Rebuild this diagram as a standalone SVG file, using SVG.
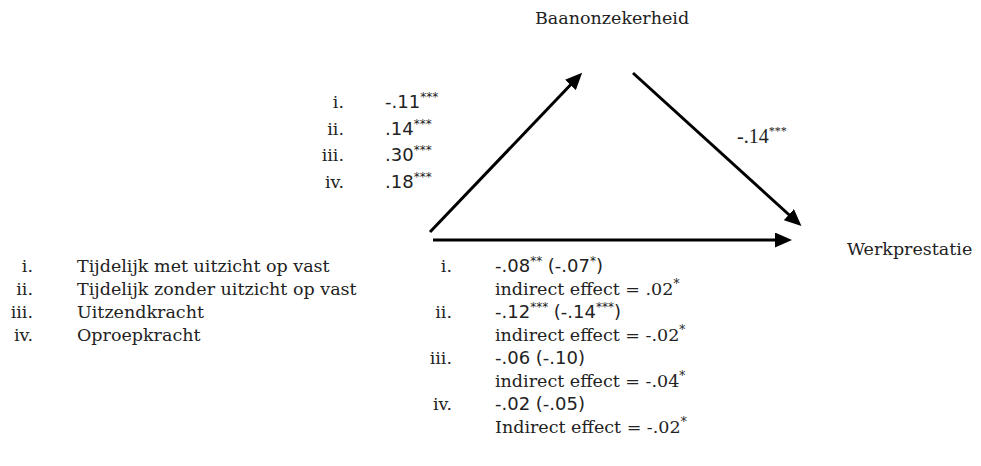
<svg xmlns="http://www.w3.org/2000/svg" width="981" height="466" viewBox="0 0 981 466">
<style>
.serif{font-family:"DejaVu Serif","Liberation Serif",serif;font-size:17.5px;fill:#222;}
.num{font-family:"DejaVu Sans","Liberation Sans",sans-serif;font-size:18px;fill:#222;}
.times{font-family:"Liberation Serif","Times New Roman",serif;font-size:20px;fill:#222;}
.sup{font-size:12px;}
.conn{stroke:#000;stroke-width:3;fill:none;marker-end:url(#ah);}
</style>
<defs>
<marker id="ah" markerUnits="userSpaceOnUse" markerWidth="17" markerHeight="15" refX="11" refY="7.5" orient="auto">
<path d="M0,0 L17,7.5 L0,15 z" fill="#000"/>
</marker>
</defs>
<rect width="981" height="466" fill="#fff"/>
<g id="connectors">
<line class="conn" x1="430" y1="232" x2="578" y2="77"/>
<line class="conn" x1="633" y1="73" x2="797" y2="222"/>
<line class="conn" x1="433" y1="240" x2="786" y2="240"/>
</g>
<g id="node-baanonzekerheid"><text class="serif" x="535" y="24">Baanonzekerheid</text></g>
<g id="node-werkprestatie"><text class="serif" x="847" y="255">Werkprestatie</text></g>
<g id="label-a">
<text class="serif" x="344" y="108" text-anchor="end">i.</text>
<text class="serif" x="344" y="134.5" text-anchor="end">ii.</text>
<text class="serif" x="344" y="161" text-anchor="end">iii.</text>
<text class="serif" x="344" y="187.5" text-anchor="end">iv.</text>
<text class="num" x="385" y="108">-.11<tspan class="sup" dy="-7">***</tspan></text>
<text class="num" x="385" y="134.5">.14<tspan class="sup" dy="-7">***</tspan></text>
<text class="num" x="385" y="161">.30<tspan class="sup" dy="-7">***</tspan></text>
<text class="num" x="385" y="187.5">.18<tspan class="sup" dy="-7">***</tspan></text>
</g>
<g id="label-b"><text class="times" x="737" y="143">-.14<tspan class="sup" dy="-8">***</tspan></text></g>
<g id="legend">
<text class="serif" x="33" y="272" text-anchor="end">i.</text>
<text class="serif" x="33" y="295" text-anchor="end">ii.</text>
<text class="serif" x="33" y="318" text-anchor="end">iii.</text>
<text class="serif" x="33" y="341" text-anchor="end">iv.</text>
<text class="serif" x="77" y="272">Tijdelijk met uitzicht op vast</text>
<text class="serif" x="77" y="295">Tijdelijk zonder uitzicht op vast</text>
<text class="serif" x="77" y="318">Uitzendkracht</text>
<text class="serif" x="77" y="341">Oproepkracht</text>
</g>
<g id="label-c">
<text class="serif" x="452" y="272" text-anchor="end">i.</text>
<text class="num" x="495" y="272">-.08<tspan class="sup" dy="-7">**</tspan><tspan dy="7"> (-.07</tspan><tspan class="sup" dy="-7">*</tspan><tspan dy="7">)</tspan></text>
<text class="serif" x="495" y="295">indirect effect = .02<tspan class="sup" dy="-7">*</tspan></text>
<text class="serif" x="452" y="318" text-anchor="end">ii.</text>
<text class="num" x="495" y="318">-.12<tspan class="sup" dy="-7">***</tspan><tspan dy="7"> (-.14</tspan><tspan class="sup" dy="-7">***</tspan><tspan dy="7">)</tspan></text>
<text class="serif" x="495" y="341">indirect effect = -.02<tspan class="sup" dy="-7">*</tspan></text>
<text class="serif" x="452" y="364" text-anchor="end">iii.</text>
<text class="num" x="495" y="364">-.06 (-.10)</text>
<text class="serif" x="495" y="387">indirect effect = -.04<tspan class="sup" dy="-7">*</tspan></text>
<text class="serif" x="452" y="410" text-anchor="end">iv.</text>
<text class="num" x="495" y="410">-.02 (-.05)</text>
<text class="serif" x="495" y="433">Indirect effect = -.02<tspan class="sup" dy="-7">*</tspan></text>
</g>
</svg>
